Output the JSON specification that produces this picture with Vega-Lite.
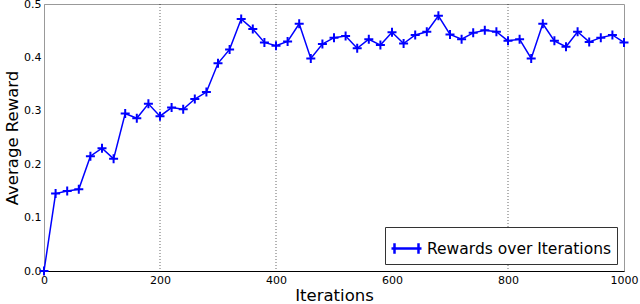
{
  "$schema": "https://vega.github.io/schema/vega-lite/v6.json",
  "width": 580,
  "height": 267,
  "autosize": {"type": "none"},
  "padding": {"left": 44, "top": 4, "right": 16, "bottom": 33},
  "background": "white",
  "config": {
    "font": "DejaVu Sans",
    "view": {"stroke": "#999", "strokeWidth": 1},
    "axis": {"grid": false, "ticks": false, "labelPadding": 3, "domainColor": "#000", "labelColor": "#000", "titleColor": "#000", "labelFontSize": 11, "titleFontSize": 16.5, "titleFontWeight": "normal"}
  },
  "datasets": {
    "rewards": [
      {"iter": 0, "reward": 0.0},
      {"iter": 20, "reward": 0.145},
      {"iter": 40, "reward": 0.150},
      {"iter": 60, "reward": 0.153},
      {"iter": 80, "reward": 0.215},
      {"iter": 100, "reward": 0.230},
      {"iter": 120, "reward": 0.210},
      {"iter": 140, "reward": 0.295},
      {"iter": 160, "reward": 0.286},
      {"iter": 180, "reward": 0.313},
      {"iter": 200, "reward": 0.290},
      {"iter": 220, "reward": 0.306},
      {"iter": 240, "reward": 0.303},
      {"iter": 260, "reward": 0.322},
      {"iter": 280, "reward": 0.335},
      {"iter": 300, "reward": 0.389},
      {"iter": 320, "reward": 0.415},
      {"iter": 340, "reward": 0.472},
      {"iter": 360, "reward": 0.453},
      {"iter": 380, "reward": 0.428},
      {"iter": 400, "reward": 0.422},
      {"iter": 420, "reward": 0.430},
      {"iter": 440, "reward": 0.463},
      {"iter": 460, "reward": 0.398},
      {"iter": 480, "reward": 0.425},
      {"iter": 500, "reward": 0.437},
      {"iter": 520, "reward": 0.440},
      {"iter": 540, "reward": 0.417},
      {"iter": 560, "reward": 0.434},
      {"iter": 580, "reward": 0.423},
      {"iter": 600, "reward": 0.447},
      {"iter": 620, "reward": 0.426},
      {"iter": 640, "reward": 0.442},
      {"iter": 660, "reward": 0.448},
      {"iter": 680, "reward": 0.478},
      {"iter": 700, "reward": 0.443},
      {"iter": 720, "reward": 0.434},
      {"iter": 740, "reward": 0.446},
      {"iter": 760, "reward": 0.451},
      {"iter": 780, "reward": 0.448},
      {"iter": 800, "reward": 0.431},
      {"iter": 820, "reward": 0.434},
      {"iter": 840, "reward": 0.398},
      {"iter": 860, "reward": 0.463},
      {"iter": 880, "reward": 0.431},
      {"iter": 900, "reward": 0.420},
      {"iter": 920, "reward": 0.448},
      {"iter": 940, "reward": 0.429},
      {"iter": 960, "reward": 0.437},
      {"iter": 980, "reward": 0.442},
      {"iter": 1000, "reward": 0.428}
    ],
    "grid": [{"iter": 200}, {"iter": 400}, {"iter": 800}]
  },
  "layer": [
    {
      "data": {"name": "grid"},
      "mark": {"type": "rule", "color": "#000", "strokeWidth": 0.6, "strokeDash": [1, 2]},
      "encoding": {
        "x": {"field": "iter", "type": "quantitative", "scale": {"domain": [0, 1000]}}
      }
    },
    {
      "data": {"name": "rewards"},
      "transform": [{"calculate": "'Rewards over Iterations'", "as": "series"}],
      "mark": {"type": "line", "strokeWidth": 1.5},
      "encoding": {
        "x": {"field": "iter", "type": "quantitative", "title": "Iterations", "scale": {"domain": [0, 1000], "nice": false}, "axis": {"values": [0, 200, 400, 600, 800, 1000], "format": "d", "labelFlush": false, "titlePadding": 2}},
        "y": {"field": "reward", "type": "quantitative", "title": "Average Reward", "scale": {"domain": [0, 0.5], "nice": false}, "axis": {"values": [0, 0.1, 0.2, 0.3, 0.4, 0.5], "format": ".1f", "titlePadding": 3, "domainColor": "#999"}},
        "color": {"field": "series", "type": "nominal", "scale": {"range": ["#0000ff"]}, "legend": {"title": null, "orient": "bottom-right", "offset": 7, "symbolType": "M-1,0H1M-0.8,-0.35V0.35M0.8,-0.35V0.35", "symbolSize": 900, "symbolStrokeWidth": 2.5, "symbolFillColor": "transparent", "labelFontSize": 15.5, "labelLimit": 0, "labelColor": "#000", "strokeColor": "#333", "fillColor": "white", "padding": 5, "cornerRadius": 0}}
      }
    },
    {
      "data": {"name": "rewards"},
      "mark": {"type": "point", "shape": "M-1,0H1M0,-1V1", "filled": false, "color": "#0000ff", "strokeWidth": 2, "size": 81, "opacity": 1},
      "encoding": {
        "x": {"field": "iter", "type": "quantitative"},
        "y": {"field": "reward", "type": "quantitative"}
      }
    }
  ]
}
